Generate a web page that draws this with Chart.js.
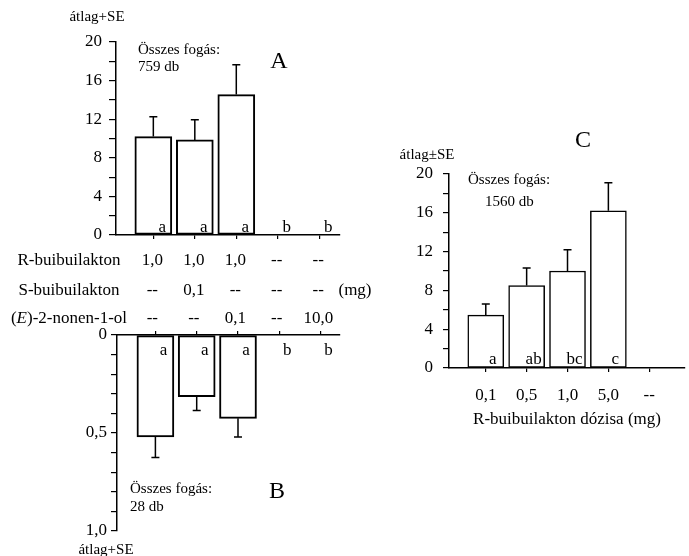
<!DOCTYPE html>
<html>
<head>
<meta charset="utf-8">
<title>Összes fogás</title>
<script src="https://cdn.jsdelivr.net/npm/chart.js@4.4.0/dist/chart.umd.min.js"></script>
<style>
  body { margin: 0; background: #fff; }
  .wrap { position: relative; width: 689px; height: 556px; overflow: hidden; }
  canvas { position: absolute; }
</style>
</head>
<body>
<div class="wrap">
  <canvas id="chartA" width="380" height="330" style="left:0;top:0"></canvas>
  <canvas id="chartB" width="380" height="236" style="left:0;top:320px"></canvas>
  <canvas id="chartC" width="309" height="300" style="left:380px;top:130px"></canvas>
</div>
<script>
// table under panel A (doses in mg)
const rDose = ['1,0', '1,0', '1,0', '--', '--'];
const sDose = ['--', '0,1', '--', '--', '--'];
const nonenol = ['--', '--', '0,1', '--', '10,0'];

// A: catches (mean + SE)
const meanA = [10.2, 9.85, 14.55, 0, 0];
const seA = [2.05, 2.1, 3.1, 0, 0];
const lettersA = ['a', 'a', 'a', 'b', 'b'];

// B: catches (mean + SE), axis drawn downwards
const meanB = [0.52, 0.315, 0.425, 0, 0];
const seB = [0.105, 0.07, 0.095, 0, 0];
const lettersB = ['a', 'a', 'a', 'b', 'b'];

// C: R-buibuilakton dose series
const dosesC = ['0,1', '0,5', '1,0', '5,0', '--'];
const meanC = [5.45, 8.5, 10.0, 16.2, 0];
const seC = [1.15, 1.8, 2.2, 2.9, 0];
const lettersC = ['a', 'ab', 'bc', 'c', ''];

const FAMILY = "'Liberation Serif', 'Times New Roman', serif";
Chart.defaults.font.family = FAMILY;
Chart.defaults.font.size = 17;
Chart.defaults.color = '#000';
Chart.defaults.animation = false;
Chart.defaults.plugins.legend.display = false;
Chart.defaults.plugins.tooltip.enabled = false;

function put(ctx, text, x, y, size, align, style) {
    ctx.font = (style || '') + ' ' + size + 'px ' + FAMILY;
    ctx.textAlign = align || 'left';
    ctx.textBaseline = 'middle';
    ctx.fillStyle = '#000';
    ctx.fillText(text, x, y);
}

function errorBars(se, cap) {
    return {
        id: 'errorBars',
        afterDatasetsDraw(chart) {
            const {ctx, scales: {x, y}} = chart;
            ctx.save();
            ctx.strokeStyle = '#000';
            ctx.lineWidth = 1.5;
            chart.data.datasets[0].data.forEach((d, i) => {
                if (!se[i]) return;
                const px = x.getPixelForValue(d.x);
                const y0 = y.getPixelForValue(d.y);
                const y1 = y.getPixelForValue(d.y + se[i]);
                ctx.beginPath();
                ctx.moveTo(px, y0);
                ctx.lineTo(px, y1);
                ctx.moveTo(px - cap, y1);
                ctx.lineTo(px + cap, y1);
                ctx.stroke();
            });
            ctx.restore();
        }
    };
}

function points(means) {
    return means.map((v, i) => ({x: i + 1, y: v}));
}

function xAxis(min, max, height, extra) {
    return Object.assign({
        type: 'linear', min: min, max: max, offset: false,
        afterBuildTicks: s => { s.ticks = rDose.map((_, i) => ({value: i + 1})); },
        afterFit: s => { s.height = height; },
        border: {color: '#000', width: 1.5},
        grid: {offset: false, drawOnChartArea: false, color: '#000', tickLength: 4, lineWidth: 1.2},
        ticks: {autoSkip: false, maxRotation: 0, callback: () => ''}
    }, extra || {});
}

function yAxis(max, step, width, tickLen, pad, label, extra) {
    return Object.assign({
        min: 0, max: max,
        afterFit: s => { s.width = width; },
        border: {color: '#000', width: 1.5},
        grid: {drawOnChartArea: false, color: '#000', tickLength: tickLen, lineWidth: 1.2},
        ticks: {stepSize: step, autoSkip: false, padding: pad, callback: label}
    }, extra || {});
}

function barSet(means, thick, bw) {
    return [{
        data: points(means),
        backgroundColor: '#fff',
        borderColor: '#000',
        borderWidth: bw,
        borderSkipped: false,
        barThickness: thick
    }];
}

// ---------- A ----------
const chartA = new Chart(document.getElementById('chartA'), {
    type: 'bar',
    data: {datasets: barSet(meanA, 37, 2)},
    options: {
        responsive: false,
        layout: {padding: {top: 42, right: 40, bottom: 80, left: 0}},
        scales: {
            x: xAxis(0.1, 5.5, 15),
            y: yAxis(20, 2, 116, 7, 7, v => v % 4 === 0 ? v : '')
        }
    },
    plugins: [errorBars(seA, 4), {
        id: 'notesA',
        afterDraw(chart) {
            const {ctx, chartArea: a, scales: {x}} = chart;
            put(ctx, 'átlag+SE', a.left - 19, a.top - 25, 15, 'center');
            put(ctx, 'Összes fogás:', a.left + 22, a.top + 8, 15);
            put(ctx, '759 db', a.left + 22, a.top + 25, 15);
            put(ctx, 'A', a.left + 163, a.top + 20, 24, 'center');
            lettersA.forEach((t, i) => put(ctx, t, x.getPixelForValue(i + 1) + 9, a.bottom - 7, 17, 'center'));

            // dose table
            const rows = [rDose, sDose, nonenol];
            const rowY = [a.bottom + 26, a.bottom + 56, a.bottom + 84];
            rows.forEach((row, r) => row.forEach((t, i) =>
                put(ctx, t, x.getPixelForValue(i + 1) - 1, rowY[r], 17, 'center')));
            const nameX = a.left - 47;
            put(ctx, 'R-buibuilakton', nameX, rowY[0], 17, 'center');
            put(ctx, 'S-buibuilakton', nameX, rowY[1], 17, 'center');
            // (E)-2-nonen-1-ol with italic E
            ctx.font = '17px ' + FAMILY;
            const w1 = ctx.measureText('(').width;
            const w3 = ctx.measureText(')-2-nonen-1-ol').width;
            ctx.font = 'italic 17px ' + FAMILY;
            const w2 = ctx.measureText('E').width;
            let sx = nameX - (w1 + w2 + w3) / 2;
            put(ctx, '(', sx, rowY[2], 17);
            put(ctx, 'E', sx + w1, rowY[2], 17, 'left', 'italic');
            put(ctx, ')-2-nonen-1-ol', sx + w1 + w2, rowY[2], 17);
            put(ctx, '(mg)', a.right + 15, rowY[1], 17, 'center');
        }
    }]
});

// ---------- B ----------
const chartB = new Chart(document.getElementById('chartB'), {
    type: 'bar',
    data: {datasets: barSet(meanB, 37, 2)},
    options: {
        responsive: false,
        layout: {padding: {top: 0, right: 40, bottom: 25, left: 0}},
        scales: {
            x: xAxis(0.07, 5.47, 15, {position: 'top'}),
            y: yAxis(1, 0.1, 117, 6, 4, v => {
                if (Math.abs(v) < 1e-6) return '0';
                if (Math.abs(v - 0.5) < 1e-6) return '0,5';
                if (Math.abs(v - 1) < 1e-6) return '1,0';
                return '';
            }, {reverse: true})
        }
    },
    plugins: [errorBars(seB, 4), {
        id: 'notesB',
        afterDraw(chart) {
            const {ctx, chartArea: a, scales: {x}} = chart;
            lettersB.forEach((t, i) => put(ctx, t, x.getPixelForValue(i + 1) + 8, a.top + 16, 17, 'center'));
            put(ctx, 'Összes fogás:', a.left + 13, a.top + 154, 15);
            put(ctx, '28 db', a.left + 13, a.top + 172, 15);
            put(ctx, 'B', a.left + 160, a.top + 157, 24, 'center');
            put(ctx, 'átlag+SE', a.left - 11, a.bottom + 19, 15, 'center');
        }
    }]
});

// ---------- C ----------
const chartC = new Chart(document.getElementById('chartC'), {
    type: 'bar',
    data: {datasets: barSet(meanC, 36, 1.5)},
    options: {
        responsive: false,
        layout: {padding: {top: 44, right: 4, bottom: 0, left: 0}},
        scales: {
            x: xAxis(0.1, 5.875, 62, {
                ticks: {autoSkip: false, maxRotation: 0, padding: 13, callback: v => dosesC[v - 1]},
                title: {display: true, text: 'R-buibuilakton dózisa (mg)', padding: {top: 0, bottom: 0}}
            }),
            y: yAxis(20, 2, 69, 6, 10, v => v % 4 === 0 ? v : '')
        }
    },
    plugins: [errorBars(seC, 4), {
        id: 'notesC',
        afterDraw(chart) {
            const {ctx, chartArea: a, scales: {x}} = chart;
            lettersC.forEach((t, i) => put(ctx, t, x.getPixelForValue(i + 1) + 7, a.bottom - 8, 17, 'center'));
            put(ctx, 'átlag±SE', a.left - 22, a.top - 19, 15, 'center');
            put(ctx, 'Összes fogás:', a.left + 19, a.top + 6, 15);
            put(ctx, '1560 db', a.left + 36, a.top + 28, 15);
            put(ctx, 'C', a.left + 134, a.top - 33, 24, 'center');
        }
    }]
});
</script>
</body>
</html>
